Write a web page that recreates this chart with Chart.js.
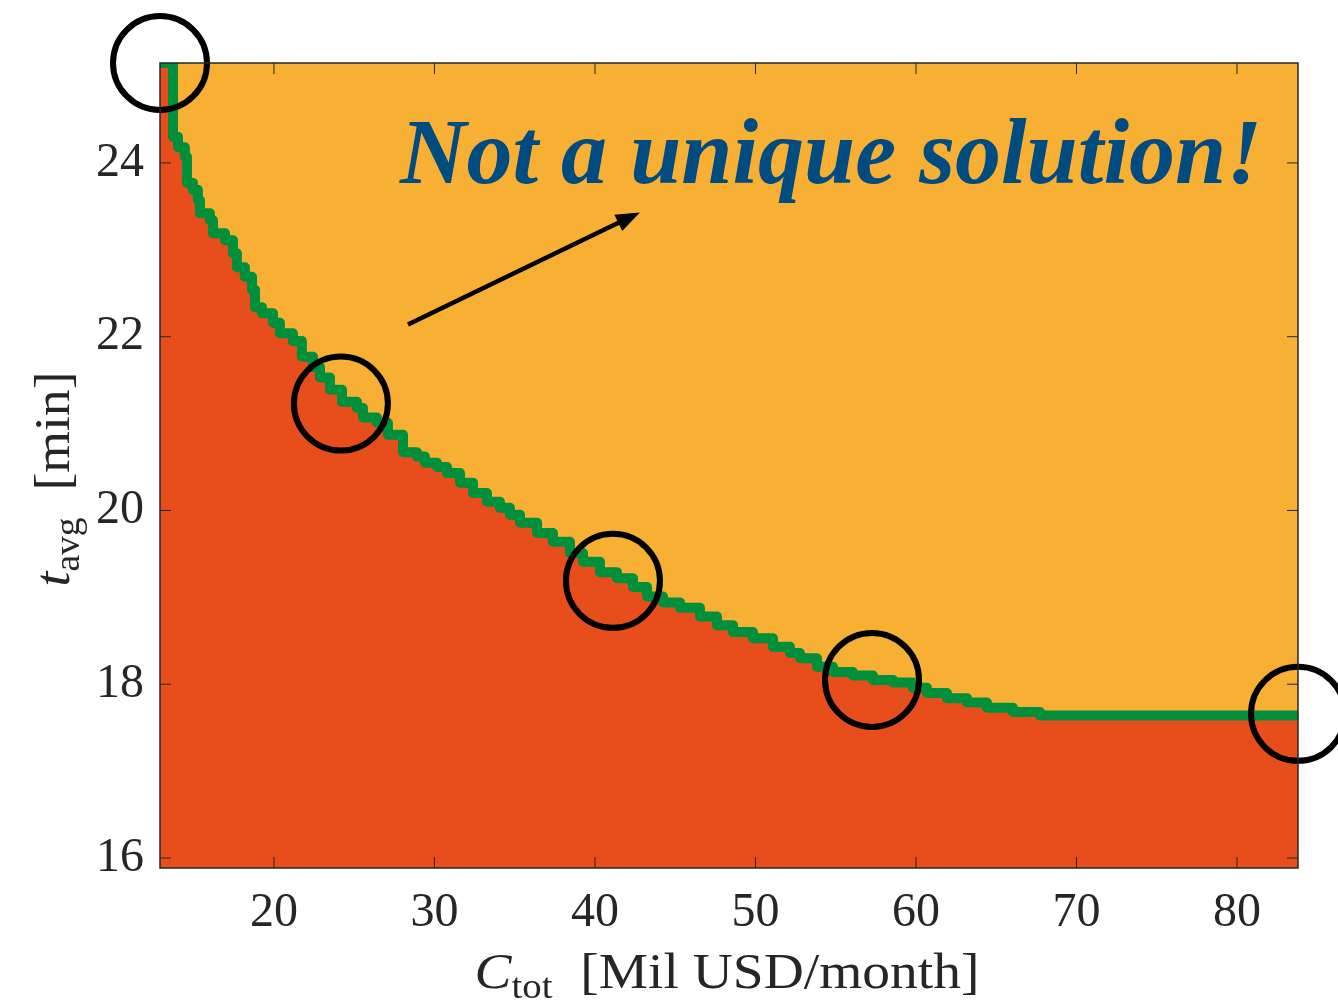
<!DOCTYPE html>
<html>
<head>
<meta charset="utf-8">
<script src="https://cdn.jsdelivr.net/npm/chart.js@4.4.1/dist/chart.umd.min.js"></script>
<style>
  body { margin: 0; background: #fff; }
</style>
</head>
<body>
<canvas id="myChart" width="1338" height="1003"></canvas>
<script>
// frontier: cost (Mil USD/month) vs average time (min)
var costValues = [12.9, 13.64, 13.71, 14.02, 14.45, 14.58, 14.95, 15.26, 15.39, 16.01, 16.2, 16.95, 17.45, 17.69,
  18.19, 18.63, 18.82, 19.25, 19.94, 20.37, 21.18, 21.74, 22.43, 22.87, 23.49, 24.24, 25.17, 25.55, 26.42, 27.1,
  28.04, 28.91, 29.41, 30.16, 30.78, 31.59, 32.4, 33.27, 34.08, 34.7, 35.33, 36.39, 37.38, 38.44, 39.25, 40.31,
  41.37, 42.37, 43.24, 44.24, 45.3, 46.54, 47.6, 48.6, 49.84, 51.09, 52.15, 52.77, 53.83, 54.83, 56.07, 57.32,
  58.57, 59.81, 60.69, 61.93, 63.18, 64.42, 66.04, 67.73, 83.8];
var timeValues = [25.15, 25.15, 24.3, 24.18, 24.07, 23.77, 23.69, 23.57, 23.42, 23.34, 23.19, 23.11, 22.96, 22.8,
  22.69, 22.54, 22.34, 22.27, 22.16, 22.04, 21.95, 21.77, 21.65, 21.53, 21.39, 21.25, 21.18, 21.07, 21.01, 20.87,
  20.67, 20.62, 20.55, 20.5, 20.43, 20.32, 20.2, 20.1, 20.03, 19.95, 19.86, 19.74, 19.64, 19.51, 19.41, 19.29,
  19.22, 19.12, 19.01, 18.94, 18.88, 18.78, 18.68, 18.6, 18.53, 18.43, 18.36, 18.3, 18.2, 18.14, 18.1, 18.05,
  18.02, 17.96, 17.9, 17.84, 17.79, 17.73, 17.68, 17.64, 17.64];

// circled solutions
var circleCost = [12.9, 24.17, 41.12, 57.26, 83.8];
var circleTime = [25.15, 21.23, 19.19, 18.05, 17.66];

var xTickValues = [20, 30, 40, 50, 60, 70, 80];
var yTickValues = [16, 18, 20, 22, 24];

var arrowFrom = [28.35, 22.14];
var arrowTo = [42.8, 23.43];
var noteText = 'Not a unique solution!';

var serif = '"Liberation Serif", serif';
var ink = '#262626';

var frontier = costValues.map(function (c, i) { return { x: c, y: timeValues[i] }; });
var circles = circleCost.map(function (c, i) { return { x: c, y: circleTime[i] }; });

// text with sub-parts (italic symbol, subscript, unit), stretched to a width
function richText(ctx, parts, cx, cy, angle, width) {
    var total = 0;
    parts.forEach(function (p) { ctx.font = p.font; total += ctx.measureText(p.text).width; });
    ctx.save();
    ctx.translate(cx, cy);
    ctx.rotate(angle);
    ctx.scale(width / total, 1);
    ctx.fillStyle = ink;
    ctx.textBaseline = 'alphabetic';
    ctx.textAlign = 'left';
    var x = -total / 2;
    parts.forEach(function (p) {
        ctx.font = p.font;
        ctx.fillText(p.text, x, p.dy);
        x += ctx.measureText(p.text).width;
    });
    ctx.restore();
}

var decor = {
    id: 'decor',
    beforeDraw: function (chart) {
        var a = chart.chartArea, ctx = chart.ctx;
        ctx.save();
        ctx.fillStyle = '#F7B034';
        ctx.fillRect(a.left, a.top, a.right - a.left, a.bottom - a.top);
        ctx.restore();
    },
    afterDatasetsDraw: function (chart) {
        var a = chart.chartArea, ctx = chart.ctx;
        var xs = chart.scales.x, ys = chart.scales.y;
        ctx.save();
        // arrow
        var x0 = xs.getPixelForValue(arrowFrom[0]), y0 = ys.getPixelForValue(arrowFrom[1]);
        var x1 = xs.getPixelForValue(arrowTo[0]), y1 = ys.getPixelForValue(arrowTo[1]);
        var ang = Math.atan2(y1 - y0, x1 - x0);
        var head = 24;
        ctx.strokeStyle = '#000';
        ctx.lineWidth = 4.5;
        ctx.beginPath();
        ctx.moveTo(x0, y0);
        ctx.lineTo(x1 - head * 0.8 * Math.cos(ang), y1 - head * 0.8 * Math.sin(ang));
        ctx.stroke();
        ctx.fillStyle = '#000';
        ctx.beginPath();
        ctx.moveTo(x1, y1);
        ctx.lineTo(x1 - head * Math.cos(ang) + 9 * Math.sin(ang), y1 - head * Math.sin(ang) - 9 * Math.cos(ang));
        ctx.lineTo(x1 - head * Math.cos(ang) - 9 * Math.sin(ang), y1 - head * Math.sin(ang) + 9 * Math.cos(ang));
        ctx.closePath();
        ctx.fill();

        // note
        ctx.fillStyle = '#004C80';
        ctx.font = 'italic bold 93px ' + serif;
        ctx.textBaseline = 'alphabetic';
        ctx.textAlign = 'left';
        ctx.fillText(noteText, 400, 183, 862);

        // box and inner ticks
        ctx.strokeStyle = ink;
        ctx.lineWidth = 1.5;
        ctx.strokeRect(a.left, a.top, a.right - a.left, a.bottom - a.top);
        ctx.lineWidth = 1;
        ctx.beginPath();
        xTickValues.forEach(function (v) {
            var p = xs.getPixelForValue(v);
            ctx.moveTo(p, a.bottom); ctx.lineTo(p, a.bottom - 11);
            ctx.moveTo(p, a.top); ctx.lineTo(p, a.top + 11);
        });
        yTickValues.forEach(function (v) {
            var p = ys.getPixelForValue(v);
            ctx.moveTo(a.left, p); ctx.lineTo(a.left + 11, p);
            ctx.moveTo(a.right, p); ctx.lineTo(a.right - 11, p);
        });
        ctx.stroke();
        ctx.restore();
    },
    afterDraw: function (chart) {
        var ctx = chart.ctx;
        richText(ctx, [
            { text: 'C', font: 'italic 50px ' + serif, dy: 0 },
            { text: 'tot', font: '35px ' + serif, dy: 10 },
            { text: '  [Mil USD/month]', font: '50px ' + serif, dy: 0 }
        ], 727, 988, 0, 505);
        richText(ctx, [
            { text: 't', font: 'italic 50px ' + serif, dy: 0 },
            { text: 'avg', font: '35px ' + serif, dy: 10 },
            { text: '  [min]', font: '50px ' + serif, dy: 0 }
        ], 69, 479, -Math.PI / 2, 215);
    }
};

var ctx = document.getElementById('myChart').getContext('2d');
var myChart = new Chart(ctx, {
    type: 'scatter',
    data: {
        datasets: [{
            label: 'circled',
            data: circles,
            showLine: false,
            pointRadius: 47,
            pointHoverRadius: 47,
            pointBorderWidth: 6,
            pointBorderColor: '#000',
            pointBackgroundColor: 'rgba(0,0,0,0)',
            clip: false,
            order: 0
        }, {
            label: 'frontier',
            data: frontier,
            showLine: true,
            stepped: 'before',
            borderColor: '#008F3A',
            borderWidth: 10,
            borderJoinStyle: 'round',
            borderCapStyle: 'round',
            pointRadius: 0,
            fill: 'start',
            backgroundColor: '#E84E1B',
            order: 1
        }]
    },
    options: {
        responsive: false,
        animation: false,
        events: [],
        layout: { autoPadding: false, padding: { top: 63, right: 40, left: 0, bottom: 0 } },
        plugins: {
            legend: { display: false },
            tooltip: { enabled: false }
        },
        scales: {
            x: {
                type: 'linear',
                min: 12.9,
                max: 83.8,
                afterBuildTicks: function (s) { s.ticks = xTickValues.map(function (v) { return { value: v }; }); },
                afterFit: function (s) { s.height = 135; s.paddingLeft = 0; s.paddingRight = 0; },
                grid: { display: false },
                border: { display: false },
                ticks: { color: ink, font: { family: serif, size: 48 }, padding: 9, maxRotation: 0 }
            },
            y: {
                type: 'linear',
                min: 15.885,
                max: 25.15,
                afterBuildTicks: function (s) { s.ticks = yTickValues.map(function (v) { return { value: v }; }); },
                afterFit: function (s) { s.width = 160; s.paddingTop = 0; s.paddingBottom = 0; },
                grid: { display: false },
                border: { display: false },
                ticks: { color: ink, font: { family: serif, size: 48 }, padding: 8 }
            }
        }
    },
    plugins: [decor]
});
</script>
</body>
</html>
